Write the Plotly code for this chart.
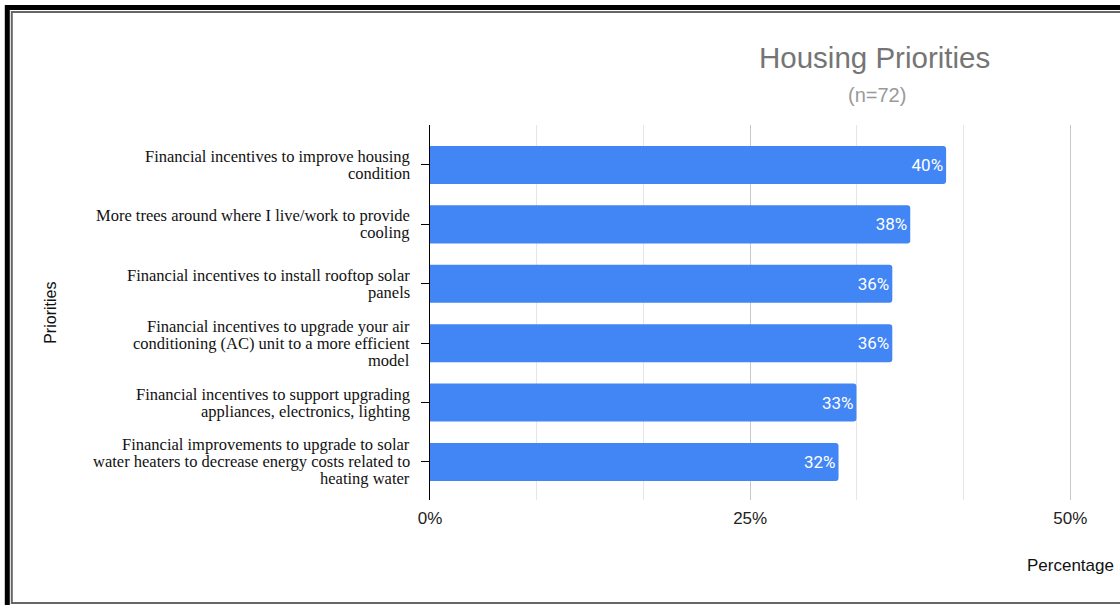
import plotly.graph_objects as go

categories = [
    "Financial incentives to improve housing<br>condition",
    "More trees around where I live/work to provide<br>cooling",
    "Financial incentives to install rooftop solar<br>panels",
    "Financial incentives to upgrade your air<br>conditioning (AC) unit to a more efficient<br>model",
    "Financial incentives to support upgrading<br>appliances, electronics, lighting",
    "Financial improvements to upgrade to solar<br>water heaters to decrease energy costs related to<br>heating water",
]
values = [40.3, 37.5, 36.1, 36.1, 33.3, 31.9]
value_labels = ["40%", "38%", "36%", "36%", "33%", "32%"]
x_ticks = [0, 25, 50]
x_tick_labels = ["0%", "25%", "50%"]

W, H = 1120, 605
X_MAX = 50.6
PX_PER_UNIT = 12.8
L, T, B = 430, 125, 500
R = L + X_MAX * PX_PER_UNIT


def px(x):
    return (x - L) / (R - L)


def py(y):
    return (B - y) / (B - T)


fig = go.Figure(
    go.Bar(
        x=values,
        y=categories,
        orientation="h",
        marker=dict(color="#4285f4", cornerradius=3, line=dict(width=0)),
        text=value_labels,
        textposition="inside",
        insidetextanchor="end",
        textfont=dict(family="Roboto, Arial", size=17, color="white"),
        cliponaxis=False,
    )
)

fig.update_layout(
    width=W,
    height=H,
    margin=dict(l=L, r=W - R, t=T, b=H - B),
    paper_bgcolor="white",
    plot_bgcolor="white",
    showlegend=False,
    bargap=0.36,
    font=dict(family="Arial", color="#222222"),
)

fig.update_xaxes(
    range=[0, X_MAX],
    tickvals=x_ticks,
    ticktext=x_tick_labels,
    showgrid=True,
    gridcolor="#c8c8c8",
    gridwidth=1,
    minor=dict(dtick=25 / 3, showgrid=True, gridcolor="#e6e6e6", gridwidth=1),
    zeroline=False,
    showline=False,
    ticks="",
    tickfont=dict(family="Arial", size=17, color="#222222"),
    ticklabelstandoff=6,
)

fig.update_yaxes(
    range=[5.64, -0.673],
    showline=True,
    linecolor="#000000",
    linewidth=1,
    ticks="outside",
    ticklen=8,
    tickcolor="#000000",
    tickwidth=1,
    showgrid=False,
    showticklabels=False,
)

annotations = [
    dict(text="Housing Priorities", x=px(874), y=py(57), xref="paper", yref="paper",
         showarrow=False, xanchor="center", yanchor="middle",
         font=dict(family="Arial", size=29.5, color="#757575")),
    dict(text="(n=72)", x=px(877), y=py(95), xref="paper", yref="paper",
         showarrow=False, xanchor="center", yanchor="middle",
         font=dict(family="Arial", size=20, color="#9a9a9a")),
    dict(text="Priorities", x=px(50), y=py(313), xref="paper", yref="paper",
         showarrow=False, textangle=-90, xanchor="center", yanchor="middle",
         font=dict(family="Arial", size=16, color="#111111")),
    dict(text="Percentage", x=px(1070), y=py(565), xref="paper", yref="paper",
         showarrow=False, xanchor="center", yanchor="middle",
         font=dict(family="Arial", size=17, color="#111111")),
]

# category labels, one text line per annotation for tight line spacing
line_step = 17
for cat in categories:
    lines = cat.split("<br>")
    n = len(lines)
    for i, line in enumerate(lines):
        annotations.append(
            dict(text=line, x=px(412), y=cat, xref="paper", yref="y",
                 showarrow=False, xanchor="right", yanchor="middle",
                 yshift=((n - 1) / 2 - i) * line_step,
                 font=dict(family="Liberation Serif, Times New Roman, serif",
                           size=16.5, color="#111111"))
        )
fig.update_layout(annotations=annotations)

shapes = [
    dict(type="rect", xref="paper", yref="paper",
         x0=px(7.5), x1=px(1135), y0=py(7.5), y1=py(610),
         line=dict(color="#000000", width=5), fillcolor="rgba(0,0,0,0)"),
    dict(type="rect", xref="paper", yref="paper",
         x0=px(12), x1=px(1140), y0=py(12), y1=py(603),
         line=dict(color="#666666", width=2), fillcolor="rgba(0,0,0,0)"),
]
fig.update_layout(shapes=shapes)

fig.write_html("out.html", config={"displayModeBar": False},
               post_script="document.body.style.margin='0';")
